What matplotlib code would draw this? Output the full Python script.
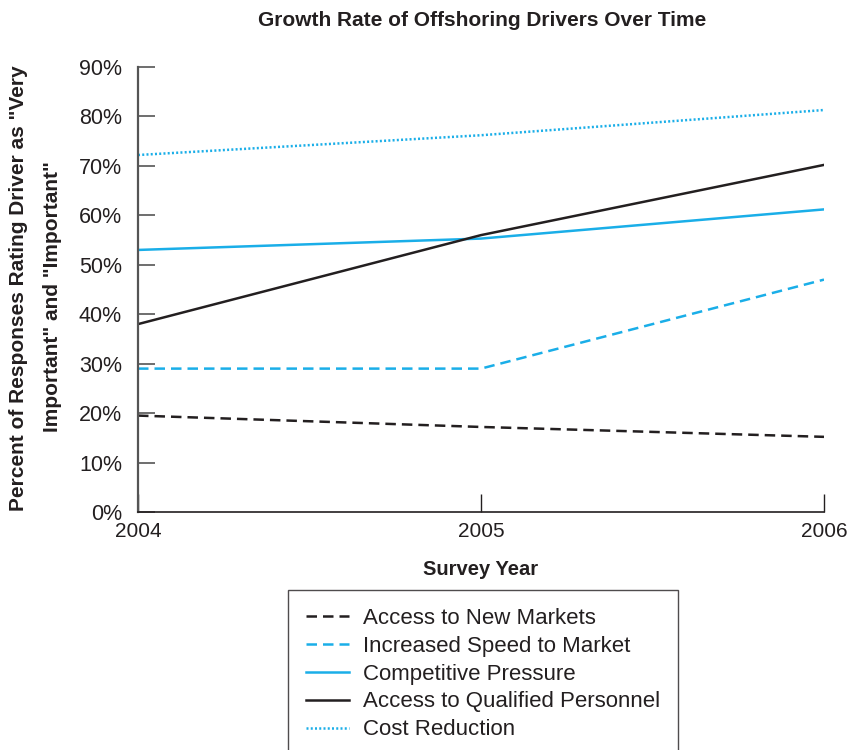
import matplotlib
matplotlib.use("Agg")
import matplotlib.pyplot as plt
from matplotlib.ticker import PercentFormatter

years = [2004, 2005, 2006]
new_markets = [19.5, 17.2, 15.2]
speed_to_market = [29, 29, 47]
competitive_pressure = [53, 55.3, 61.2]
qualified_personnel = [38, 56, 70.2]
cost_reduction = [72.2, 76.2, 81.3]

labels = [
    "Access to New Markets",
    "Increased Speed to Market",
    "Competitive Pressure",
    "Access to Qualified Personnel",
    "Cost Reduction",
]

blue = "#1aaee8"
black = "#231f20"
gray = "#555555"

plt.rcParams["font.family"] = ["Liberation Sans", "DejaVu Sans"]

fig = plt.figure(figsize=(8.47, 7.5), dpi=100)
ax = fig.add_axes([138 / 847, 1 - 512 / 750, (824 - 138) / 847, (512 - 67) / 750])

dash = (0, (4.2, 2.4))
dots = (0, (0.8, 0.9))
lw = 1.8
ax.plot(years, new_markets, color=black, lw=lw, ls=dash, label=labels[0])
ax.plot(years, speed_to_market, color=blue, lw=lw, ls=dash, label=labels[1])
ax.plot(years, competitive_pressure, color=blue, lw=lw, label=labels[2])
ax.plot(years, qualified_personnel, color=black, lw=lw, label=labels[3])
ax.plot(years, cost_reduction, color=blue, lw=lw, ls=dots, label=labels[4])

ax.set_xlim(2004, 2006)
ax.set_ylim(0, 90)
ax.set_xticks(years)
ax.set_xticklabels([str(y) for y in years])
ax.set_yticks(range(0, 91, 10))
ax.yaxis.set_major_formatter(PercentFormatter(decimals=0))

for s in ["top", "right"]:
    ax.spines[s].set_visible(False)
ax.spines["left"].set_color(gray)
ax.spines["left"].set_linewidth(1.6)
ax.spines["bottom"].set_color(black)
ax.spines["bottom"].set_linewidth(1.2)

ax.tick_params(axis="y", direction="in", length=12, width=1.2, color=gray,
               pad=11.5, labelsize=15.5, labelcolor=black)
ax.tick_params(axis="x", direction="in", length=13, width=1.0, color=black,
               pad=7, labelsize=15, labelcolor=black)

fig.text(482 / 847, 1 - 20 / 750, "Growth Rate of Offshoring Drivers Over Time",
         ha="center", va="center", fontsize=15, fontweight="bold", color=black)
ax.set_xlabel("Survey Year", fontsize=14.5, fontweight="bold", labelpad=14,
              color=black)

fig.text(19 / 847, 1 - 288 / 750, 'Percent of Responses Rating Driver as "Very',
         rotation=90, ha="center", va="center", fontsize=15,
         fontweight="bold", color=black)
fig.text(52 / 847, 1 - 297 / 750, 'Important" and "Important"',
         rotation=90, ha="center", va="center", fontsize=15,
         fontweight="bold", color=black)

leg = fig.legend(loc="upper left", bbox_to_anchor=(288 / 847, 1 - 590 / 750),
                 fontsize=16, frameon=True, fancybox=False, handlelength=1.95,
                 labelspacing=0.31, borderpad=0.8, handletextpad=0.63,
                 borderaxespad=0)
leg.get_frame().set_edgecolor(black)
leg.get_frame().set_linewidth(1.0)
for t in leg.get_texts():
    t.set_color(black)

fig.savefig("out.png", dpi=100)
